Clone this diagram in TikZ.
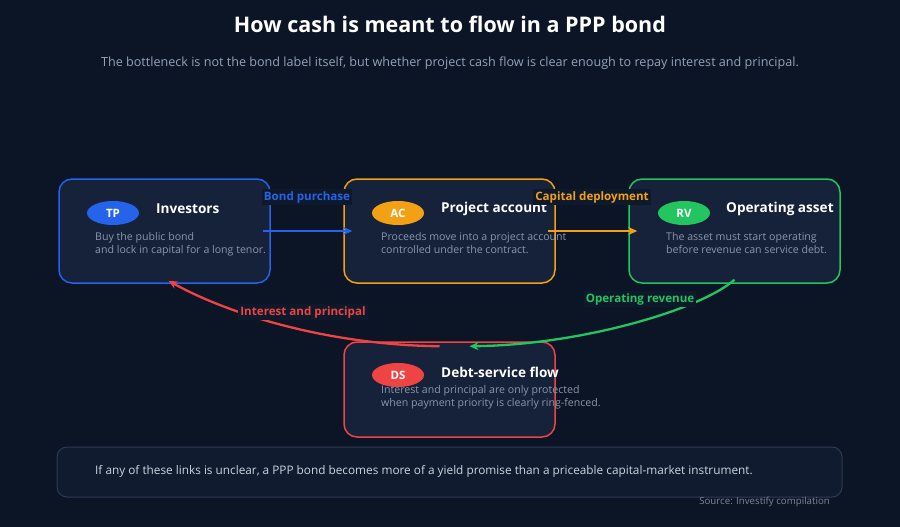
\documentclass[tikz,border=0pt]{standalone}
\usepackage{fontspec}
\setmainfont{Open Sans}
\usetikzlibrary{arrows.meta,calc,shapes.geometric}
\definecolor{bg}{HTML}{0B1526}
\definecolor{boxfill}{HTML}{16213A}
\definecolor{cblue}{HTML}{2563EB}
\definecolor{corange}{HTML}{F2A114}
\definecolor{cgreen}{HTML}{22C55E}
\definecolor{cred}{HTML}{EF4444}
\definecolor{descgray}{HTML}{8A97AB}
\definecolor{subgray}{HTML}{94A3B8}
\definecolor{noteborder}{HTML}{2E3B55}
\definecolor{notefill}{HTML}{111B2F}
\definecolor{notetext}{HTML}{CBD5E1}
\definecolor{srcgray}{HTML}{7C8799}
\definecolor{labelbg}{HTML}{0E192C}
\tikzset{
  card/.style={draw=#1, line width=1.5pt, fill=boxfill, rounded corners=13pt, minimum width=211pt, inner sep=0pt},
  badge/.style={ellipse, fill=#1, minimum width=52pt, minimum height=24pt, inner sep=0pt, text=white, font=\fontsize{11.5}{13}\selectfont\bfseries},
  ctitle/.style={anchor=west, text=white, font=\fontsize{13.6}{16}\selectfont\bfseries, inner sep=0pt},
  cdesc/.style={anchor=north west, text=descgray, font=\fontsize{10.6}{13}\selectfont, align=left, inner sep=0pt},
  flow/.style={draw=#1, line width=2.3pt, -{Stealth[length=9pt,width=8pt]}},
  flabel/.style={fill=labelbg, text=#1, font=\fontsize{11.6}{13}\selectfont\bfseries, inner sep=2pt},
}
\begin{document}
\begin{tikzpicture}[x=1pt,y=-1pt]
\fill[bg] (0,0) rectangle (900,527);
\useasboundingbox (0,0) rectangle (900,527);

\node[text=white, font=\fontsize{21.5}{26}\selectfont\bfseries] (title) at (450,24) {How cash is meant to flow in a PPP bond};
\node[text=subgray, font=\fontsize{12.6}{15}\selectfont] (sub) at (450,63) {The bottleneck is not the bond label itself, but whether project cash flow is clear enough to repay interest and principal.};

% cards
\node[card=cblue, minimum height=104pt] (inv) at (164.5,231) {};
\node[card=corange, minimum height=104pt] (acc) at (449.5,231) {};
\node[card=cgreen, minimum height=104pt] (op) at (734.5,231) {};
\node[card=cred, minimum height=95pt] (ds) at (449.5,389.5) {};

% badges and texts
\node[badge=cblue] (tp) at (113,213) {TP};
\node[ctitle] (invt) at (156,209) {Investors};
\node[cdesc] (invd) at (95,232.5) {Buy the public bond\\and lock in capital for a long tenor.};

\node[badge=corange] (acb) at (398,213) {AC};
\node[ctitle] (acct) at (441,209) {Project account};
\node[cdesc] (accd) at (381,232.5) {Proceeds move into a project account\\controlled under the contract.};

\node[badge=cgreen] (rv) at (684,213) {RV};
\node[ctitle] (opt) at (726,209) {Operating asset};
\node[cdesc] (opd) at (666,232.5) {The asset must start operating\\before revenue can service debt.};

% flows
\draw[flow=cblue] ([xshift=-8pt]inv.east) -- ([xshift=9pt]acc.west);
\draw[flow=corange] ([xshift=-8pt]acc.east) -- ([xshift=9pt]op.west);
\draw[flow=cgreen] ([yshift=4pt]op.south) .. controls (700,310) and (580,345) .. ([xshift=20pt,yshift=-5pt]ds.north);
\draw[flow=cred] ([xshift=-10pt,yshift=-5pt]ds.north) .. controls (330,345) and (230,315) .. ([xshift=4pt,yshift=3pt]inv.south);

\node[flabel=cblue] (lb1) at (307,197) {Bond purchase};
\node[flabel=corange] (lb2) at (592,197) {Capital deployment};
\node[flabel=cgreen] (lb3) at (640,299) {Operating revenue};
\node[flabel=cred] (lb4) at (303,312) {Interest and principal};

\node[badge=cred] (dsb) at (398,375) {DS};
\node[ctitle] (dst) at (441,372) {Debt-service flow};
\node[cdesc] (dsd) at (381,385.5) {Interest and principal are only protected\\when payment priority is clearly ring-fenced.};

% note
\node[draw=noteborder, line width=1pt, fill=notefill, rounded corners=10pt, minimum width=785pt, minimum height=50pt] (note) at (449.5,472) {};
\node[anchor=west, text=notetext, font=\fontsize{11.8}{14}\selectfont, inner sep=0pt] (notet) at (95,471.5) {If any of these links is unclear, a PPP bond becomes more of a yield promise than a priceable capital-market instrument.};
\node[anchor=east, text=srcgray, font=\fontsize{9.7}{11}\selectfont, inner sep=0pt] (src) at (830,502) {Source: Investify compilation};
\end{tikzpicture}
\end{document}
